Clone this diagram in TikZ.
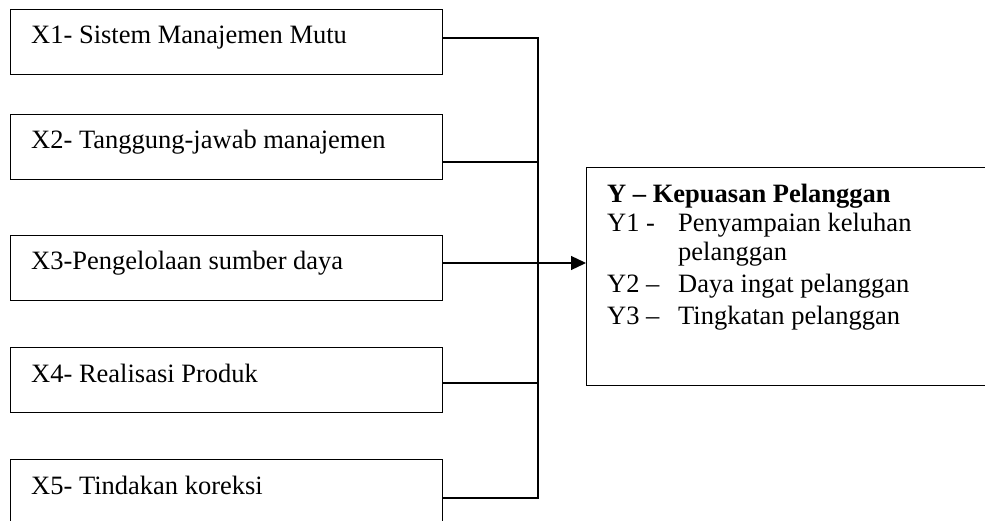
\documentclass[tikz,border=0pt]{standalone}
\usepackage{fontspec}
\setmainfont{Liberation Serif}
\usetikzlibrary{arrows.meta,calc}
\begin{document}
\begin{tikzpicture}[x=1pt,y=-1pt,
  box/.style={draw=black,line width=1.3pt,rectangle,inner sep=0pt,anchor=north west,minimum height=65pt},
  xbox/.style={box,minimum width=432pt},
  lbl/.style={anchor=base west,inner sep=0pt,font=\fontsize{26.5}{30.5}\selectfont},
  conn/.style={line width=1.3pt},
  arr/.style={line width=1.3pt,-{Triangle[length=15pt,width=14pt]}}]
\useasboundingbox (0,0) rectangle (985,521);
\clip (0,0) rectangle (985,521);
\fill[white] (0,0) rectangle (985,521);
% left boxes
\node[xbox] (b1) at (10,9) {};
\node[xbox] (b2) at (10,114) {};
\node[xbox] (b3) at (10,235) {};
\node[xbox] (b4) at (10,347) {};
\node[xbox] (b5) at (10,459) {};
\node[lbl] (t1) at (31,44) {X1- Sistem Manajemen Mutu};
\node[lbl] (t2) at (31,149) {X2- Tanggung-jawab manajemen};
\node[lbl] (t3) at (31,270) {X3-Pengelolaan sumber daya};
\node[lbl] (t4) at (31,382) {X4- Realisasi Produk};
\node[lbl] (t5) at (31,494) {X5- Tindakan koreksi};
% right box
\node[box,minimum width=410pt,minimum height=218pt] (y) at (586,167) {};
\node[lbl,font=\fontsize{26.5}{30.5}\selectfont\bfseries] (yt) at (607,203) {Y – Kepuasan Pelanggan};
\node[lbl] (y1) at (607,232) {\makebox[71pt][l]{Y1 -}Penyampaian keluhan};
\node[lbl] (y1b) at (678,261) {pelanggan};
\node[lbl] (y2) at (607,293) {\makebox[71pt][l]{Y2 –}Daya ingat pelanggan};
\node[lbl] (y3) at (607,324) {\makebox[71pt][l]{Y3 –}Tingkatan pelanggan};
% junctions
\coordinate (j1) at (538,38);
\coordinate (j2) at (538,162);
\coordinate (j3) at (538,263);
\coordinate (j4) at (538,383);
\coordinate (j5) at (538,498);
\draw[conn] (b1.east |- j1) -- (j1) -- (j5) -- (b5.east |- j5);
\draw[conn] (b2.east |- j2) -- (j2);
\draw[conn] (b4.east |- j4) -- (j4);
\draw[arr] (b3.east |- j3) -- (y.west |- j3);
\end{tikzpicture}
\end{document}
